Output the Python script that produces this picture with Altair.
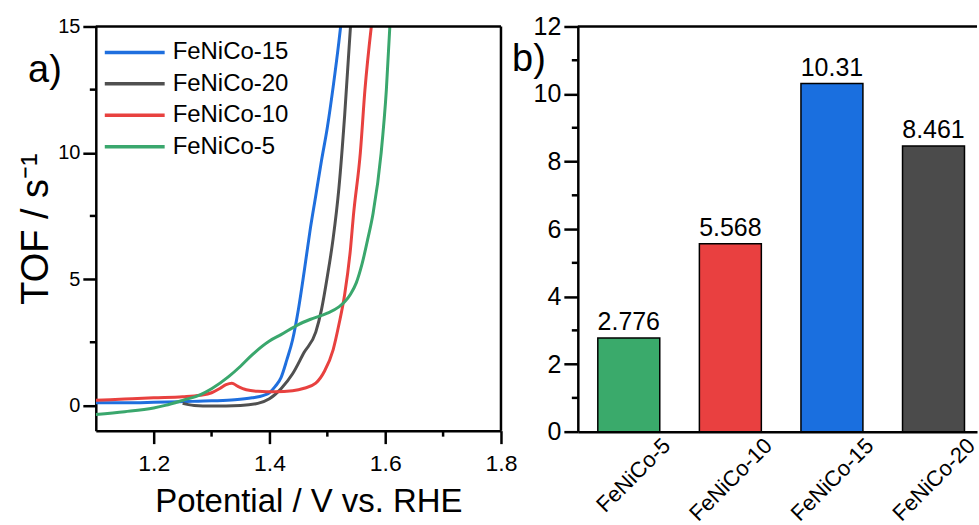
import altair as alt
import pandas as pd

FONT = "Liberation Sans"

# ---------------- Panel a) TOF vs potential ----------------
series_order = ["FeNiCo-15", "FeNiCo-20", "FeNiCo-10", "FeNiCo-5"]
line_colors = ["#1f6fde", "#505050", "#e8413f", "#3aa76d"]

v_15 = [1.10, 1.15, 1.20, 1.25, 1.30, 1.34, 1.37, 1.39, 1.40, 1.41, 1.42, 1.43, 1.44, 1.45,
        1.46, 1.47, 1.48, 1.49, 1.50, 1.51, 1.52, 1.523]
tof_15 = [0.10, 0.10, 0.12, 0.15, 0.18, 0.22, 0.30, 0.40, 0.50, 0.75, 1.10, 1.80, 2.60, 3.80,
          5.30, 6.90, 8.30, 9.70, 11.0, 12.6, 14.4, 15.0]

v_20 = [1.25, 1.26, 1.27, 1.30, 1.35, 1.38, 1.40, 1.42, 1.44, 1.46, 1.48, 1.49, 1.50, 1.51,
        1.52, 1.53, 1.54]
tof_20 = [0.08, 0.03, 0.00, -0.02, 0.00, 0.08, 0.26, 0.66, 1.25, 2.10, 2.90, 3.80, 5.10, 6.60,
          8.60, 11.5, 15.0]

v_10 = [1.10, 1.15, 1.20, 1.25, 1.28, 1.30, 1.315, 1.325, 1.335, 1.345, 1.36, 1.38, 1.41, 1.44,
        1.46, 1.48, 1.495, 1.51, 1.52, 1.53, 1.54, 1.545, 1.557, 1.565, 1.576]
tof_10 = [0.20, 0.25, 0.30, 0.34, 0.40, 0.50, 0.68, 0.82, 0.88, 0.76, 0.62, 0.56, 0.54, 0.58,
          0.68, 0.88, 1.35, 2.20, 3.20, 4.40, 6.20, 7.50, 10.0, 12.5, 15.0]

v_5 = [1.10, 1.15, 1.20, 1.22, 1.25, 1.28, 1.30, 1.33, 1.35, 1.37, 1.40, 1.42, 1.45, 1.47, 1.50,
       1.52, 1.53, 1.54, 1.55, 1.56, 1.57, 1.579, 1.593, 1.602, 1.608]
tof_5 = [-0.36, -0.25, -0.10, 0.00, 0.20, 0.42, 0.66, 1.15, 1.55, 2.00, 2.55, 2.80, 3.20, 3.40,
         3.65, 3.90, 4.10, 4.40, 4.85, 5.60, 6.60, 7.60, 10.0, 12.5, 15.0]

x_major = [1.2, 1.4, 1.6, 1.8]
x_minor = [1.3, 1.5, 1.7]
y_major_a = [0, 5, 10, 15]
y_minor_a = [2.5, 7.5, 12.5]

# ---------------- Panel b) TOF bars ----------------
bar_names = ["FeNiCo-5", "FeNiCo-10", "FeNiCo-15", "FeNiCo-20"]
bar_values = [2.776, 5.568, 10.31, 8.461]
bar_colors = ["#3aaa6b", "#e94040", "#1a6fdf", "#4b4b4b"]
y_major_b = [0, 2, 4, 6, 8, 10, 12]
y_minor_b = [1, 3, 5, 7, 9, 11]

rows = []
for name, vs, ts in [("FeNiCo-15", v_15, tof_15), ("FeNiCo-20", v_20, tof_20),
                     ("FeNiCo-10", v_10, tof_10), ("FeNiCo-5", v_5, tof_5)]:
    for v, t in zip(vs, ts):
        rows.append({"series": name, "V": v, "TOF": t})
df_lines = pd.DataFrame(rows)
df_bars = pd.DataFrame({"sample": bar_names, "tof": bar_values,
                        "label": [str(v) for v in bar_values]})
df_one = pd.DataFrame({"k": [0]})

WA, HA = 406, 405
WB, HB = 400, 406
LW = 2.5

lines = alt.Chart(df_lines).mark_line(strokeWidth=3, interpolate="monotone", clip=True).encode(
    x=alt.X("V:Q", scale=alt.Scale(domain=[1.1, 1.8], nice=False, zero=False),
            axis=alt.Axis(values=x_major, format=".1f", title="Potential / V vs. RHE",
                          labelFontSize=23, titleFontSize=33, tickSize=13, labelPadding=9,
                          titlePadding=10, titleX=213, labelFlush=False, labelOverlap=False)),
    y=alt.Y("TOF:Q", scale=alt.Scale(domain=[-1, 15], nice=False, zero=False),
            axis=alt.Axis(values=y_major_a, title="TOF / s⁻¹", labelFontSize=20,
                          titleFontSize=38, tickSize=13, labelPadding=3, titlePadding=2,
                          labelFlush=False, labelOverlap=False)),
    color=alt.Color("series:N", scale=alt.Scale(domain=series_order, range=line_colors),
                    legend=alt.Legend(orient="none", legendX=22, legendY=9, title=None,
                                      symbolType="M-2,0H2", symbolSize=900,
                                      symbolStrokeWidth=3.5, labelFontSize=24,
                                      labelFont=FONT, labelColor="black", rowPadding=2.5,
                                      labelOffset=21, padding=0)),
    detail="series:N",
)

minor_x_a = alt.Chart(pd.DataFrame({"V": x_minor})).mark_rule(color="black", strokeWidth=LW).encode(
    x="V:Q", y=alt.value(HA), y2=alt.value(HA + 6))
minor_y_a = alt.Chart(pd.DataFrame({"TOF": y_minor_a})).mark_rule(color="black", strokeWidth=LW).encode(
    y="TOF:Q", x=alt.value(-6), x2=alt.value(0))
top_a = alt.Chart(df_one).mark_rule(color="black", strokeWidth=LW).encode(
    x=alt.value(0), x2=alt.value(WA), y=alt.value(0))
right_a = alt.Chart(df_one).mark_rule(color="black", strokeWidth=LW).encode(
    x=alt.value(WA), y=alt.value(0), y2=alt.value(HA))
label_a = alt.Chart(df_one).mark_text(text="a)", fontSize=38, font=FONT, color="black",
                                      align="center", baseline="middle").encode(
    x=alt.value(-51), y=alt.value(45))

left = alt.layer(lines, minor_x_a, minor_y_a, top_a, right_a, label_a).properties(
    width=WA, height=HA)

bars = alt.Chart(df_bars).mark_bar(stroke="black", strokeWidth=1.5).encode(
    x=alt.X("sample:N", sort=bar_names,
            scale=alt.Scale(paddingInner=0.39, paddingOuter=0.16, align=0.615),
            axis=alt.Axis(title=None, labelAngle=-45, labelFontSize=22, tickSize=0,
                          labelOffset=31, labelPadding=3, labelAlign="right",
                          labelBaseline="top")),
    y=alt.Y("tof:Q", scale=alt.Scale(domain=[0, 12], nice=False),
            axis=alt.Axis(values=y_major_b, title=None, labelFontSize=25, tickSize=14,
                          labelPadding=3, labelFlush=False, labelOverlap=False)),
    color=alt.Color("sample:N", scale=alt.Scale(domain=bar_names, range=bar_colors),
                    legend=None),
)
bar_text = alt.Chart(df_bars).mark_text(fontSize=25, font=FONT, color="black",
                                        baseline="alphabetic", dy=-8).encode(
    x=alt.X("sample:N", sort=bar_names), y="tof:Q", text="label:N")
minor_y_b = alt.Chart(pd.DataFrame({"tof": y_minor_b})).mark_rule(color="black", strokeWidth=LW).encode(
    y="tof:Q", x=alt.value(-6), x2=alt.value(0))
top_b = alt.Chart(df_one).mark_rule(color="black", strokeWidth=LW).encode(
    x=alt.value(0), x2=alt.value(WB), y=alt.value(0))
label_b = alt.Chart(df_one).mark_text(text="b)", fontSize=38, font=FONT, color="black",
                                      align="center", baseline="middle").encode(
    x=alt.value(-49), y=alt.value(34))

right = alt.layer(bars, bar_text, minor_y_b, top_b, label_b).properties(width=WB, height=HB)

chart = alt.hconcat(left, right, spacing=77, bounds="flush").resolve_scale(
    color="independent"
).properties(
    padding={"left": 17, "top": 14, "right": 0, "bottom": 0},
    background="white",
).configure_view(stroke=None).configure_axis(
    grid=False, labelFont=FONT, titleFont=FONT, labelColor="black", titleColor="black",
    domainColor="black", tickColor="black", domainWidth=LW, tickWidth=LW,
    titleFontWeight="normal",
)

chart.save("out.html", embed_options={"renderer": "svg", "actions": False})
